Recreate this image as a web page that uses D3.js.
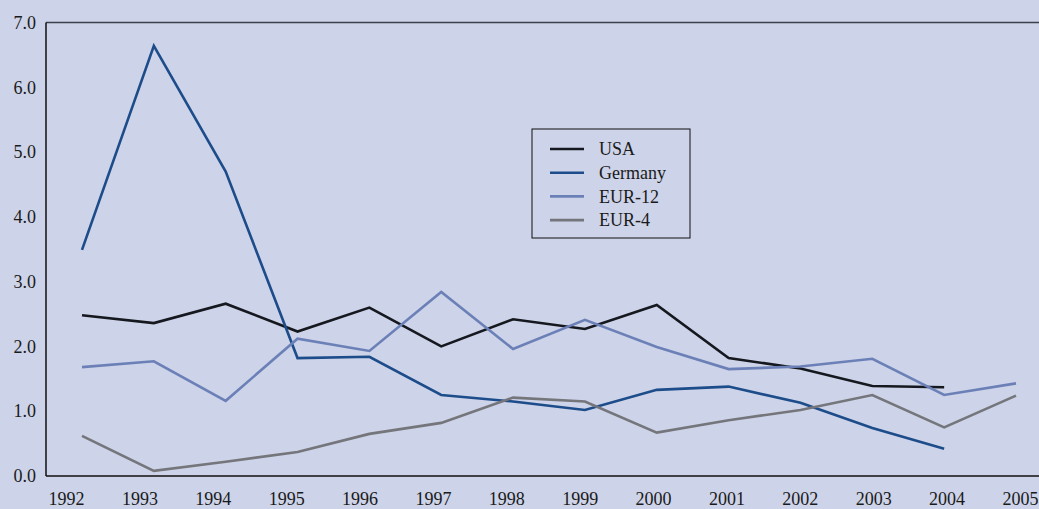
<!DOCTYPE html>
<html>
<head>
<meta charset="utf-8">
<script src="https://cdn.jsdelivr.net/npm/d3@7"></script>
<style>
  html, body { margin: 0; padding: 0; background: #cdd3e8; }
  svg { display: block; }
  text { font-family: "Liberation Serif", "Times New Roman", serif; fill: #1a1a1a; }
</style>
</head>
<body>
<svg id="chart" width="1039" height="509"></svg>
<script>
// Annual growth rates, 1992–2005
const years = [1992, 1993, 1994, 1995, 1996, 1997, 1998, 1999, 2000, 2001, 2002, 2003, 2004, 2005];
const yTicks = [0, 1, 2, 3, 4, 5, 6, 7];

const usa     = [2.48, 2.36, 2.66, 2.23, 2.60, 2.00, 2.42, 2.27, 2.64, 1.82, 1.66, 1.39, 1.37, null];
const germany = [3.49, 6.64, 4.70, 1.82, 1.84, 1.25, 1.15, 1.02, 1.33, 1.38, 1.13, 0.74, 0.42, null];
const eur12   = [1.68, 1.77, 1.16, 2.12, 1.93, 2.84, 1.96, 2.41, 1.99, 1.65, 1.69, 1.81, 1.25, 1.43];
const eur4    = [0.62, 0.08, 0.22, 0.37, 0.65, 0.82, 1.21, 1.15, 0.67, 0.86, 1.02, 1.25, 0.75, 1.24];

const seriesNames  = ["USA", "Germany", "EUR-12", "EUR-4"];
const seriesColors = ["#15181f", "#1d4c8a", "#6c80b8", "#74767b"];
const seriesValues = [usa, germany, eur12, eur4];

const W = 1039, H = 509;
const plot = { left: 46, right: 1039, top: 22.5, bottom: 476 };

const svg = d3.select("#chart");

const y = d3.scaleLinear().domain([0, 7]).range([plot.bottom, plot.top]);
const x = d3.scaleLinear().domain([1992, 2005]).range([82, 1016]);
// year labels sit on their own slightly wider grid
const xLabel = d3.scalePoint().domain(years).range([66, 1020]);

// frame: top and left edges
svg.append("line").attr("x1", plot.left).attr("x2", plot.right)
  .attr("y1", plot.top).attr("y2", plot.top)
  .attr("stroke", "#3c3f4a").attr("stroke-width", 1.5);
svg.append("line").attr("x1", plot.left).attr("x2", plot.left)
  .attr("y1", plot.top).attr("y2", plot.bottom)
  .attr("stroke", "#111").attr("stroke-width", 1.5);

// y axis labels
const yAxis = d3.axisLeft(y).tickValues(yTicks).tickFormat(d3.format(".1f")).tickSize(0).tickPadding(10);
const gy = svg.append("g").attr("transform", `translate(${plot.left},0)`).call(yAxis);
gy.select(".domain").remove();
gy.selectAll("text").style("font-size", "18px").style("font-family", "Liberation Serif, serif").attr("fill", "#1a1a1a");

// x axis labels
const xAxis = d3.axisBottom(xLabel).tickSize(0).tickPadding(16).tickFormat(d3.format("d"));
const gx = svg.append("g").attr("transform", `translate(0,${plot.bottom})`).call(xAxis);
gx.select(".domain").remove();
gx.selectAll("text").style("font-size", "18px").style("font-family", "Liberation Serif, serif").attr("fill", "#1a1a1a");

// bottom edge
svg.append("line").attr("x1", plot.left).attr("x2", plot.right)
  .attr("y1", plot.bottom).attr("y2", plot.bottom)
  .attr("stroke", "#111").attr("stroke-width", 1.5);

// series lines
const line = d3.line()
  .defined(d => d.v !== null)
  .x(d => x(d.year))
  .y(d => y(d.v));

seriesValues.forEach((vals, i) => {
  svg.append("path")
    .datum(years.map((yr, j) => ({ year: yr, v: vals[j] })))
    .attr("fill", "none")
    .attr("stroke", seriesColors[i])
    .attr("stroke-width", 2.6)
    .attr("stroke-linejoin", "miter")
    .attr("d", line);
});

// legend
const lg = svg.append("g").attr("transform", "translate(532,129)");
lg.append("rect").attr("x", 0).attr("y", 0).attr("width", 158).attr("height", 109)
  .attr("fill", "none").attr("stroke", "#111").attr("stroke-width", 1);
seriesNames.forEach((name, i) => {
  const cy = 20 + i * 23.7;
  lg.append("line").attr("x1", 18).attr("x2", 52).attr("y1", cy).attr("y2", cy)
    .attr("stroke", seriesColors[i]).attr("stroke-width", 2.6);
  lg.append("text").attr("x", 67).attr("y", cy).attr("dy", "0.35em")
    .style("font-size", "18px").text(name);
});
</script>
</body>
</html>
